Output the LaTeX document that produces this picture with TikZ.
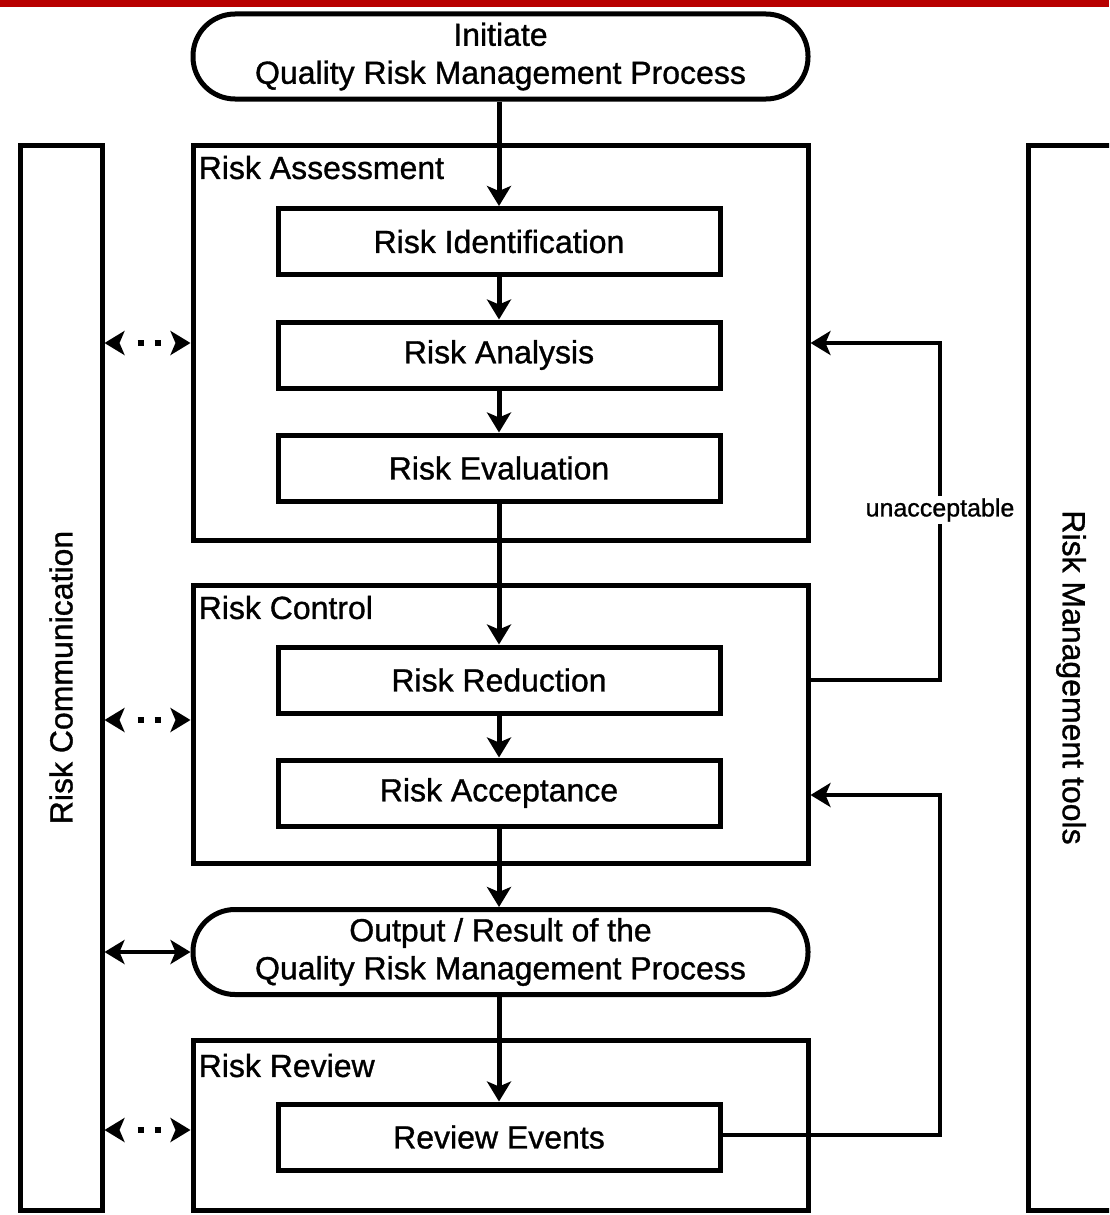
\documentclass[tikz,border=0pt]{standalone}
\usepackage{fontspec}
\setmainfont[FakeBold=1]{Liberation Sans}
\usetikzlibrary{arrows.meta}
\definecolor{barred}{RGB}{184,0,0}
\begin{document}
\begin{tikzpicture}[x=1pt,y=-1pt,
  box/.style={draw, line width=5pt, rectangle, inner sep=0pt},
  container/.style={box, minimum width=615pt},
  stepbox/.style={box, minimum width=442pt, minimum height=66pt, font=\fontsize{32}{38}\selectfont},
  term/.style={draw, line width=5pt, rounded corners=42pt, minimum width=615pt, minimum height=85pt, align=center, inner sep=0pt, font=\fontsize{32}{38}\selectfont},
  title/.style={anchor=west, inner sep=0pt, font=\fontsize{32}{38}\selectfont},
  side/.style={inner sep=0pt, font=\fontsize{32}{38}\selectfont},
  tip/.tip={Stealth[length=20pt,width=24pt,inset=5pt]},
  btip/.tip={Stealth[length=20pt,width=24pt,inset=5pt,black]},
  flow/.style={line width=5pt, -tip},
  loop/.style={line width=4pt, -tip},
  comm/.style={line width=4pt, tip-tip},
  commtips/.style={line width=4pt, white, btip-btip},
  dots/.style={line width=6pt, dash pattern=on 6pt off 11pt}
]
\useasboundingbox (0,0) rectangle (1109,1215);
\clip (0,0) rectangle (1109,1215);
\fill[barred] (0,0) rectangle (1109,7);

% side boxes
\node (commbox) [box, minimum width=82pt, minimum height=1065pt] at (61,677.5) {};
\node (toolbox) [box, minimum width=97pt, minimum height=1065pt] at (1076.5,677.5) {};
\node (commtxt) [side, rotate=90] at (commbox.center) {Risk Communication};
\node (tooltxt) [side, rotate=-90] at (1071,677.5) {Risk Management tools};

% terminators
\node (init) [term] at (500.5,56.5) {\raisebox{-3pt}{Initiate}\\\raisebox{-3pt}{Quality Risk Management Process}};
\node (out) [term] at (500.5,952) {\raisebox{-2pt}{Output / Result of the}\\\raisebox{-2pt}{Quality Risk Management Process}};

% containers
\node (rass) [container, minimum height=395pt] at (500.5,342.5) {};
\node (rctrl) [container, minimum height=278pt] at (500.5,724) {};
\node (rrev) [container, minimum height=170pt] at (500.5,1125) {};
\node (rasst) [title] at ([xshift=8pt,yshift=-25pt]rass.north west) {Risk Assessment};
\node (rctrlt) [title] at ([xshift=8pt,yshift=-25pt]rctrl.north west) {Risk Control};
\node (rrevt) [title] at ([xshift=8pt,yshift=-28pt]rrev.north west) {Risk Review};

% steps
\node (ri) [stepbox] at (499,241.5) {Risk Identification};
\node (ra) [stepbox] at (499,355) {Risk Analysis};
\node (re) [stepbox] at (499,468) {Risk Evaluation};
\node (rr) [stepbox] at (499,680) {Risk Reduction};
\node (rac) [stepbox] at (499,793) {Risk Acceptance};
\node (rev) [stepbox] at (499,1137) {Review Events};

% main flow
\draw[flow] (init.south -| ri.north) -- (ri.north);
\draw[flow] (ri) -- (ra);
\draw[flow] (ra) -- (re);
\draw[flow] (re) -- (rr);
\draw[flow] (rr) -- (rac);
\draw[flow] (rac.south) -- (out.north -| rac.south);
\draw[flow] (out.south -| rev.north) -- (rev.north);

% feedback loops
\coordinate (fb1a) at (940,680);
\coordinate (fb1b) at (940,343);
\draw[loop] (rctrl.east |- fb1a) -- (fb1a) -- (fb1b) -- (rass.east |- fb1b);
\node (unacc) [fill=white, inner sep=2pt, font=\fontsize{25}{30}\selectfont] at (940,510) {unacceptable};
\coordinate (fb2a) at (940,1135);
\coordinate (fb2b) at (940,795);
\draw[loop] (rev.east |- fb2a) -- (fb2a) -- (fb2b) -- (rctrl.east |- fb2b);

% communication arrows
\foreach \yy/\tgt/\nm in {343/rass/ca, 720/rctrl/cc, 1130/rrev/cr} {
  \coordinate (\nm l) at (commbox.east |- 0,\yy);
  \coordinate (\nm r) at (\tgt.west |- 0,\yy);
  \draw[commtips] (\nm l) -- (\nm r);
  \draw[dots] ([xshift=33pt]\nm l) -- ([xshift=56pt]\nm l);
}
\draw[comm] (commbox.east |- out.west) -- (out.west);
\end{tikzpicture}
\end{document}
